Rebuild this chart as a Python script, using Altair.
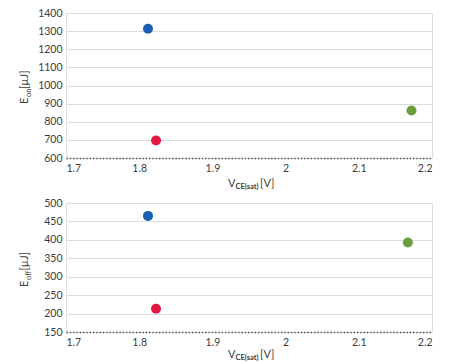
import altair as alt
import pandas as pd

# ---- data ----
series = ["device A", "device B", "device C"]
colors = ["#1b60b0", "#e5173f", "#6b9f3e"]

vce_on = [1.812, 1.823, 2.172]
eon = [1313, 697, 862]

vce_off = [1.812, 1.823, 2.167]
eoff = [465, 213, 393]

x_ticks = [1.7, 1.8, 1.9, 2.0, 2.1, 2.2]
y_on_ticks = [600, 700, 800, 900, 1000, 1100, 1200, 1300, 1400]
y_off_ticks = [150, 200, 250, 300, 350, 400, 450, 500]

# title pieces (main, subscript, rest)
y_on_title = ["E", "on", " [µJ]"]
y_off_title = ["E", "off", " [µJ]"]
x_title = ["V", "CE(sat)", "[V]"]

FONT = "Lato"
TXT = "#3c3c3c"
W = 366


def piece(text, size, x, y, angle=0, bold=False):
    return alt.Chart(pd.DataFrame({"t": [text]})).mark_text(
        font=FONT, fontSize=size, color=TXT, align="left", baseline="alphabetic",
        angle=angle, fontWeight="bold" if bold else "normal",
    ).encode(x=alt.value(x), y=alt.value(y), text="t:N")


def panel(vals_x, vals_y, yticks, ydom, h, ytitle, ybot, xt_y):
    df = pd.DataFrame({"v": vals_x, "e": vals_y, "s": series})
    pts = alt.Chart(df).mark_circle(size=100, opacity=1).encode(
        x=alt.X("v:Q",
                scale=alt.Scale(domain=[1.7, 2.2], nice=False, zero=False),
                axis=alt.Axis(values=x_ticks, format="~g", title=None, ticks=False,
                              domain=True, domainColor="#555555", domainDash=[1.5, 1.8],
                              domainWidth=1.6, grid=False, labelPadding=5,
                              labelFont=FONT, labelFontSize=10.5, labelColor=TXT)),
        y=alt.Y("e:Q",
                scale=alt.Scale(domain=ydom, nice=False, zero=False),
                axis=alt.Axis(values=yticks, format="d", title=None, ticks=False, domain=False,
                              grid=True,
                              gridColor={"condition": {"test": f"datum.value === {ydom[0]}",
                                                       "value": "transparent"},
                                         "value": "#dcdcdc"},
                              gridWidth=1.2, labelPadding=4,
                              labelFont=FONT, labelFontSize=10.5, labelColor=TXT)),
        color=alt.Color("s:N", scale=alt.Scale(domain=series, range=colors), legend=None),
    )
    sub_len = 8 if len(ytitle[1]) == 2 else 9.5
    yt = [
        piece(ytitle[0], 11, -38, ybot, angle=270),
        piece(ytitle[1], 7.5, -35.5, ybot - 7, angle=270),
        piece(ytitle[2], 11, -38, ybot - 7 - sub_len, angle=270),
    ]
    xt = [
        piece(x_title[0], 11, 162, xt_y),
        piece(x_title[1], 7.5, 169.5, xt_y + 2, bold=True),
        piece(x_title[2], 11, 194, xt_y),
    ]
    return alt.layer(pts, *yt, *xt).properties(width=W, height=h)


top = panel(vce_on, eon, y_on_ticks, [600, 1400], 145, y_on_title, 91, 145 + 29)
bottom = panel(vce_off, eoff, y_off_ticks, [150, 500], 129, y_off_title, 84, 129 + 26)

chart = alt.vconcat(top, bottom, spacing=6).properties(
    padding={"left": 10, "top": -1, "right": 5, "bottom": 0}
).configure_view(stroke=None).configure(background="white")

chart.save("out.html", embed_options={"renderer": "svg", "actions": False})
